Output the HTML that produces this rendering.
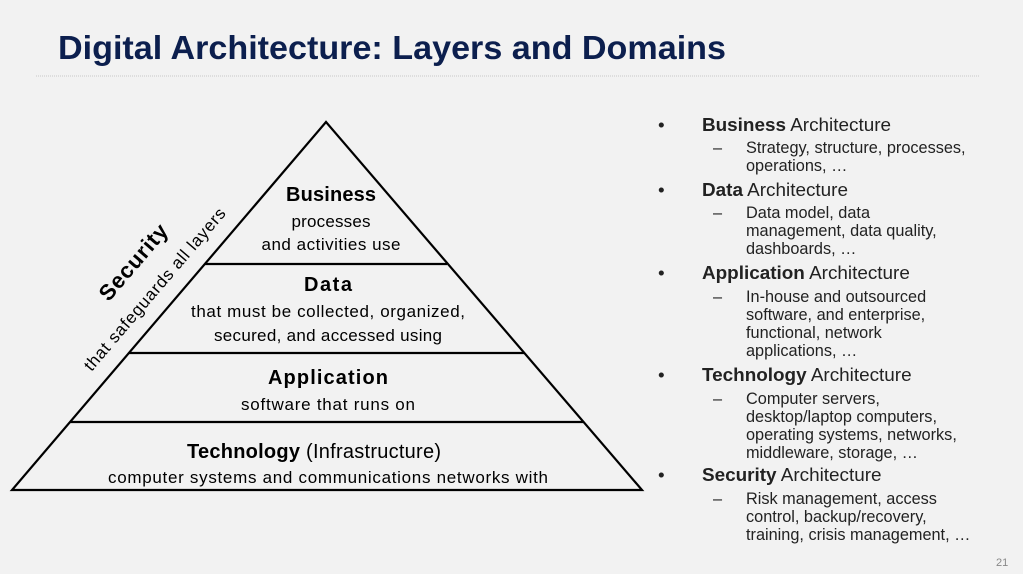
<!DOCTYPE html>
<html><head><meta charset="utf-8"><style>
html,body{margin:0;padding:0;background:#f2f2f2;}
body{width:1023px;height:574px;overflow:hidden;position:relative;font-family:"Liberation Sans",sans-serif;}
</style></head><body>
<svg width="1023" height="574" viewBox="0 0 1023 574" xmlns="http://www.w3.org/2000/svg" style="position:absolute;left:0;top:0">
<rect width="1023" height="574" fill="#f2f2f2"/>
<text x="58" y="59" font-family="Liberation Sans Narrow, Liberation Sans, sans-serif" font-weight="bold" font-size="33" fill="#0c1f4e" textLength="668" lengthAdjust="spacingAndGlyphs">Digital Architecture: Layers and Domains</text>
<line x1="36" y1="76" x2="980" y2="76" stroke="#c8c8c8" stroke-width="1" stroke-dasharray="1,1"/>
<g stroke="#000" stroke-width="2.2" fill="none">
<polygon points="326,122 12,490 642,490"/>
<line x1="205" y1="264" x2="447" y2="264"/>
<line x1="129" y1="353" x2="524" y2="353"/>
<line x1="70" y1="422" x2="583" y2="422"/>
</g>
<g font-family="Liberation Sans, sans-serif" fill="#000" text-anchor="middle" lengthAdjust="spacingAndGlyphs">
<text x="331" y="201" font-size="20" font-weight="bold" textLength="90">Business</text>
<text x="331" y="227" font-size="17" textLength="79">processes</text>
<text x="331" y="250" font-size="17" textLength="139">and activities use</text>
<text x="328" y="291" font-size="20" font-weight="bold" textLength="48">Data</text>
<text x="328" y="317" font-size="17" textLength="274">that must be collected, organized,</text>
<text x="328" y="341" font-size="17" textLength="228">secured, and accessed using</text>
<text x="328" y="384" font-size="20" font-weight="bold" textLength="120">Application</text>
<text x="328" y="410" font-size="17" textLength="174">software that runs on</text>
<text x="314" y="458" font-size="20" textLength="254"><tspan font-weight="bold">Technology</tspan> (Infrastructure)</text>
<text x="328" y="483" font-size="17" textLength="440">computer systems and communications networks with</text>
<text transform="translate(139,267) rotate(-49.5)" font-size="22" font-weight="bold" textLength="93">Security</text>
<text transform="translate(159,293) rotate(-49.5)" font-size="17" textLength="208">that safeguards all layers</text>
</g>
<g font-family="Liberation Sans, sans-serif" fill="#222">
<g font-size="18.9">
<text x="658" y="131">•</text><text x="702" y="131"><tspan font-weight="bold">Business</tspan> Architecture</text>
<text x="658" y="196">•</text><text x="702" y="196"><tspan font-weight="bold">Data</tspan> Architecture</text>
<text x="658" y="279">•</text><text x="702" y="279"><tspan font-weight="bold">Application</tspan> Architecture</text>
<text x="658" y="381">•</text><text x="702" y="381"><tspan font-weight="bold">Technology</tspan> Architecture</text>
<text x="658" y="481">•</text><text x="702" y="481"><tspan font-weight="bold">Security</tspan> Architecture</text>
</g>
<g font-size="16.3">
<text x="713" y="153">–</text>
<text x="746" y="153">Strategy, structure, processes,</text>
<text x="746" y="171">operations, …</text>
<text x="713" y="218">–</text>
<text x="746" y="218">Data model, data</text>
<text x="746" y="236">management, data quality,</text>
<text x="746" y="254">dashboards, …</text>
<text x="713" y="302">–</text>
<text x="746" y="302">In-house and outsourced</text>
<text x="746" y="320">software, and enterprise,</text>
<text x="746" y="338">functional, network</text>
<text x="746" y="356">applications, …</text>
<text x="713" y="404">–</text>
<text x="746" y="404">Computer servers,</text>
<text x="746" y="422">desktop/laptop computers,</text>
<text x="746" y="440">operating systems, networks,</text>
<text x="746" y="458">middleware, storage, …</text>
<text x="713" y="504">–</text>
<text x="746" y="504">Risk management, access</text>
<text x="746" y="522">control, backup/recovery,</text>
<text x="746" y="540">training, crisis management, …</text>
</g>
<text x="996" y="566" font-size="11" fill="#888">21</text>
</g>
</svg>
</body></html>
